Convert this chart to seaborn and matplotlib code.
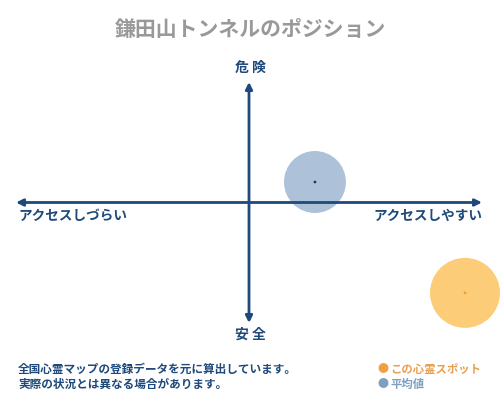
import matplotlib
matplotlib.use("Agg")
import matplotlib.pyplot as plt
import seaborn as sns
import pandas as pd

# data (axes run -100..100 in both directions)
spot_names = ["この心霊スポット", "平均値"]
access = [92.7, 28.3]      # + = アクセスしやすい
danger = [-75.0, 17.0]     # + = 危険
bubble = [2540, 1990]

title = "鎌田山トンネルのポジション"
notes = ["全国心霊マップの登録データを元に算出しています。",
         "実際の状況とは異なる場合があります。"]

sns.set_theme(style="white")
plt.rcParams['font.family'] = ['Noto Sans CJK JP', 'DejaVu Sans']

navy = "#1d4a7a"
fill_cols = ["#fdc460", "#9fb6d2"]
dot_cols = ["#f0a020", "#1d3a5a"]

df = pd.DataFrame({"name": spot_names, "x": access, "y": danger, "s": bubble})

fig = plt.figure(figsize=(5, 4), dpi=100)
ax = fig.add_axes([16 / 500, 77 / 400, 466 / 500, 241 / 400])
ax.set_xlim(-100, 100)
ax.set_ylim(-100, 100)
ax.axis("off")

# bubbles
for i, row in df.iterrows():
    sns.scatterplot(x=[row.x], y=[row.y], s=row.s, color=fill_cols[i],
                    alpha=0.85, edgecolor="none", ax=ax, legend=False,
                    zorder=1, clip_on=False)
    sns.scatterplot(x=[row.x], y=[row.y], s=4, color=dot_cols[i],
                    edgecolor="none", ax=ax, legend=False, zorder=4,
                    clip_on=False)

# axis arrows
arrow = dict(arrowstyle="-|>", color=navy, lw=2, mutation_scale=10, shrinkA=0, shrinkB=0)
ax.annotate("", xy=(100, 0), xytext=(0, 0), arrowprops=arrow, zorder=2)
ax.annotate("", xy=(-100, 0), xytext=(0, 0), arrowprops=arrow, zorder=2)
ax.annotate("", xy=(0, 100), xytext=(0, 0), arrowprops=arrow, zorder=2)
ax.annotate("", xy=(0, -100), xytext=(0, 0), arrowprops=arrow, zorder=2)

# labels
fig.text(0.5, 1 - 30 / 400, title, ha="center", va="center", fontsize=15,
         color="#999999", fontweight="bold")
fig.text(0.5, 1 - 68 / 400, "危 険", ha="center", va="center", fontsize=10,
         color=navy, fontweight="bold")
fig.text(0.5, 1 - 335 / 400, "安 全", ha="center", va="center", fontsize=10,
         color=navy, fontweight="bold")
fig.text(18 / 500, 1 - 216 / 400, "アクセスしづらい", ha="left", va="center",
         fontsize=9.8, color=navy, fontweight="bold")
fig.text(482 / 500, 1 - 216 / 400, "アクセスしやすい", ha="right", va="center",
         fontsize=9.8, color=navy, fontweight="bold")

# footnote
fig.text(18 / 500, 1 - 369 / 400, notes[0], ha="left", va="center",
         fontsize=8.4, color=navy, fontweight="bold")
fig.text(18 / 500, 1 - 384 / 400, notes[1], ha="left", va="center",
         fontsize=8.4, color=navy, fontweight="bold")

# legend
legend_text_cols = ["#e8a050", "#7f9fc2"]
legend_dot_cols = ["#f0a040", "#7f9fc2"]
for i, name in enumerate(spot_names):
    yy = 1 - (369 + 15 * i) / 400
    fig.text(377 / 500, yy, "●", ha="left", va="center", fontsize=8,
             color=legend_dot_cols[i])
    fig.text(390 / 500, yy, name, ha="left", va="center", fontsize=8.2,
             color=legend_text_cols[i], fontweight="bold")

fig.savefig("out.png", dpi=100)
